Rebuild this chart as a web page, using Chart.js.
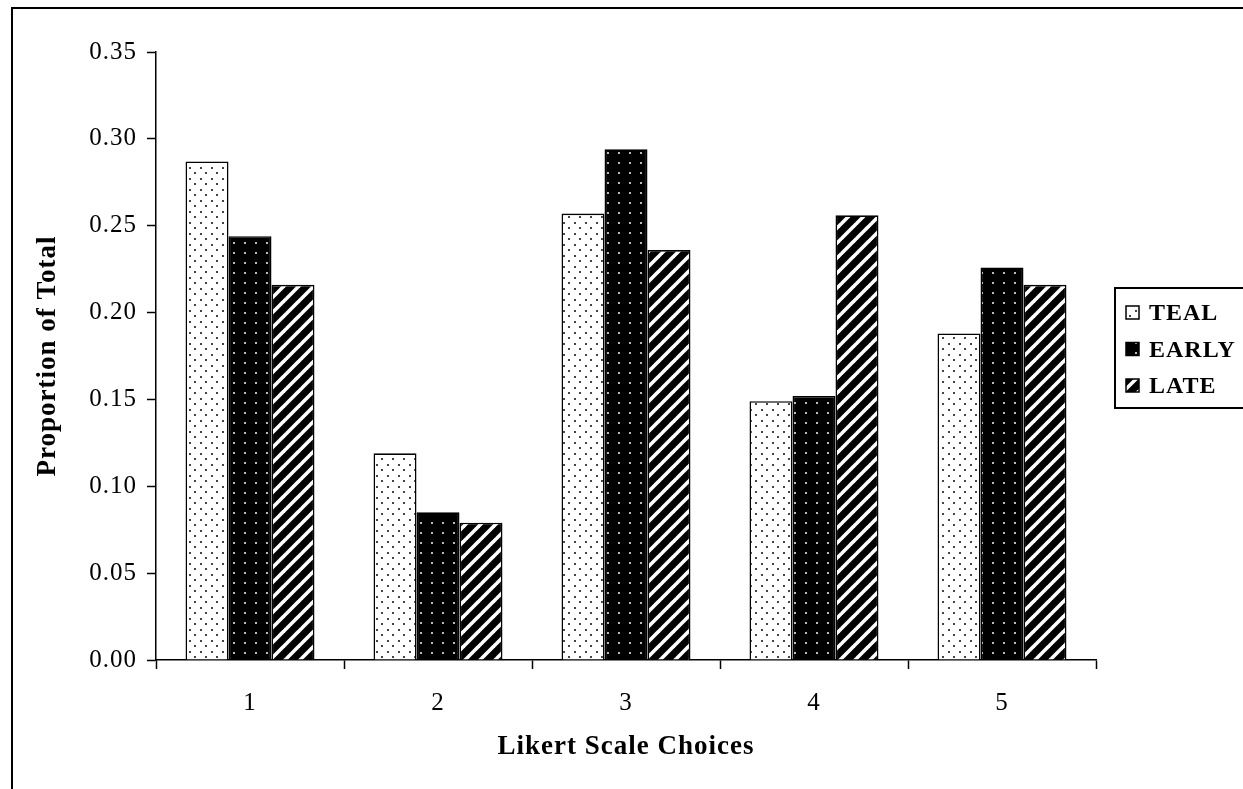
<!DOCTYPE html>
<html>
<head>
<meta charset="utf-8">
<script src="https://cdn.jsdelivr.net/npm/chart.js@4/dist/chart.umd.min.js"></script>
<style>
  html, body { margin: 0; padding: 0; background: #fff; }
  #wrap { width: 1243px; height: 789px; }
</style>
</head>
<body>
<div id="wrap"><canvas id="myChart" width="1243" height="789"></canvas></div>
<script>
// values
const categories = ['1', '2', '3', '4', '5'];
const tealValues = [0.287, 0.119, 0.257, 0.149, 0.188];
const earlyValues = [0.244, 0.085, 0.294, 0.152, 0.226];
const lateValues = [0.216, 0.079, 0.236, 0.256, 0.216];
const seriesNames = ['TEAL', 'EARLY', 'LATE'];
const yTicks = [0, 0.05, 0.10, 0.15, 0.20, 0.25, 0.30, 0.35];

const ctx = document.getElementById('myChart');
const c2d = ctx.getContext('2d');

// little tiles for the fill patterns
function dotPattern(bg, dot, staggered) {
  const t = document.createElement('canvas');
  t.width = 11; t.height = staggered ? 11 : 10;
  const g = t.getContext('2d');
  g.fillStyle = bg;
  g.fillRect(0, 0, t.width, t.height);
  g.fillStyle = dot;
  g.fillRect(2, 2, 2, 2);
  if (staggered) g.fillRect(7, 7, 2, 2);
  return c2d.createPattern(t, 'repeat');
}

function stripePattern() {
  const p = 15;
  const t = document.createElement('canvas');
  t.width = p; t.height = p;
  const g = t.getContext('2d');
  g.fillStyle = '#000';
  g.fillRect(0, 0, p, p);
  g.strokeStyle = '#fff';
  g.lineWidth = 3.6;
  for (let k = -1; k <= 1; k++) {
    g.beginPath();
    g.moveTo(k * p - 1, p + 1);
    g.lineTo(k * p + p + 1, -1);
    g.stroke();
  }
  return c2d.createPattern(t, 'repeat');
}

const fills = [
  dotPattern('#fff', '#444', true),
  dotPattern('#000', '#bbb', false),
  stripePattern()
];

const serif = "'Liberation Serif', 'Times New Roman', serif";

// the original text runs a little wide
const spacingPlugin = {
  id: 'spacing',
  beforeDraw(chart) { chart.ctx.letterSpacing = '1px'; }
};

// frame round the whole picture and the boxed legend on the right
const framePlugin = {
  id: 'frame',
  afterDraw(chart) {
    const g = chart.ctx;
    g.save();
    g.strokeStyle = '#000';
    g.lineWidth = 2;
    g.strokeRect(12, 8, 1243, 800);
    g.strokeRect(1115, 288, 200, 120);

    g.font = 'bold 24px ' + serif;
    g.textBaseline = 'middle';
    chart.data.datasets.forEach((ds, i) => {
      const y = 313 + i * 36.5;
      g.fillStyle = ds.backgroundColor;
      g.fillRect(1126, y - 7, 13, 13);
      g.lineWidth = 1.5;
      g.strokeRect(1126, y - 7, 13, 13);
      g.fillStyle = '#000';
      g.fillText(ds.label, 1149, y + 1);
    });
    g.restore();
  }
};

new Chart(ctx, {
  type: 'bar',
  data: {
    labels: categories,
    datasets: [
      { label: seriesNames[0], data: tealValues, backgroundColor: fills[0] },
      { label: seriesNames[1], data: earlyValues, backgroundColor: fills[1] },
      { label: seriesNames[2], data: lateValues, backgroundColor: fills[2] }
    ].map(d => Object.assign(d, {
      borderColor: '#000',
      borderWidth: 1.6,
      categoryPercentage: 0.686,
      barPercentage: 1.0
    }))
  },
  options: {
    responsive: false,
    animation: false,
    layout: { padding: { left: 0, top: 52, right: 147, bottom: 0 } },
    plugins: {
      legend: { display: false },
      tooltip: { enabled: false }
    },
    scales: {
      x: {
        grid: { drawOnChartArea: false, tickLength: 9, tickColor: '#000', tickWidth: 1.5 },
        border: { color: '#000', width: 1.5 },
        ticks: { color: '#000', font: { family: serif, size: 25 }, padding: 19 },
        title: {
          display: true, text: 'Likert Scale Choices', color: '#000',
          font: { family: serif, size: 27, weight: 'bold' },
          padding: { top: 0, bottom: 26 }
        },
        afterFit(scale) { scale.height = 129; }
      },
      y: {
        min: 0,
        max: 0.35,
        afterBuildTicks(scale) { scale.ticks = yTicks.map(v => ({ value: v })); },
        grid: { drawOnChartArea: false, tickLength: 9, tickColor: '#000', tickWidth: 1.5 },
        border: { color: '#000', width: 1.5 },
        ticks: {
          color: '#000', font: { family: serif, size: 25 }, padding: 10,
          callback: v => Number(v).toFixed(2)
        },
        title: {
          display: true, text: 'Proportion of Total', color: '#000',
          font: { family: serif, size: 27, weight: 'bold' },
          padding: { top: 32, bottom: 0 }
        },
        afterFit(scale) { scale.width = 156; }
      }
    }
  },
  plugins: [spacingPlugin, framePlugin]
});
</script>
</body>
</html>
